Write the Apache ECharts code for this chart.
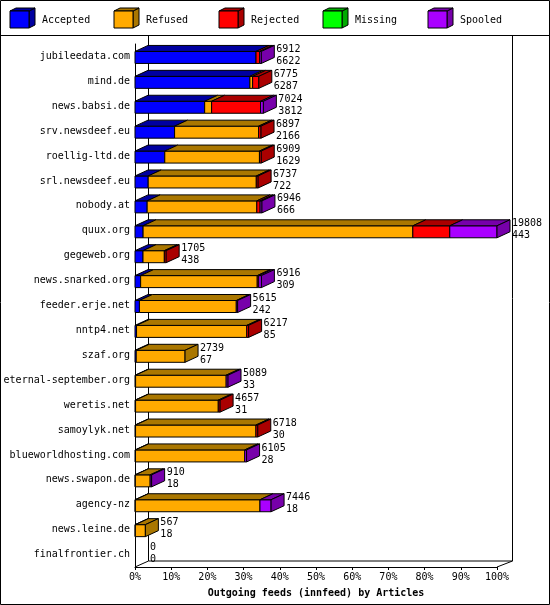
<!DOCTYPE html>
<html>
<head>
<meta charset="utf-8">
<script src="https://cdn.jsdelivr.net/npm/echarts@6/dist/echarts.min.js"></script>
<style>
  html, body { margin: 0; padding: 0; background: #fff; }
  #chart { width: 550px; height: 605px; }
</style>
</head>
<body>
<div id="chart"></div>
<script>
"use strict";

const hosts = ["jubileedata.com", "mind.de", "news.babsi.de", "srv.newsdeef.eu", "roellig-ltd.de",
  "srl.newsdeef.eu", "nobody.at", "quux.org", "gegeweb.org", "news.snarked.org", "feeder.erje.net",
  "nntp4.net", "szaf.org", "eternal-september.org", "weretis.net", "samoylyk.net",
  "blueworldhosting.com", "news.swapon.de", "agency-nz", "news.leine.de", "finalfrontier.ch"];
const offered = [6912, 6775, 7024, 6897, 6909, 6737, 6946, 19808, 1705, 6916, 5615,
  6217, 2739, 5089, 4657, 6718, 6105, 910, 7446, 567, 0];
const accepted = [6622, 6287, 3812, 2166, 1629, 722, 666, 443, 438, 309, 242,
  85, 67, 33, 31, 30, 28, 18, 18, 18, 0];
const refused = [0, 150, 380, 4600, 5180, 5915, 6000, 14760, 1167, 6380, 5300,
  6032, 2672, 4956, 4526, 6588, 5977, 812, 6820, 549, 0];
const rejected = [200, 338, 2680, 131, 100, 100, 180, 2020, 100, 80, 0,
  100, 0, 0, 100, 100, 0, 0, 0, 0, 0];
const missing = [0, 0, 0, 0, 0, 0, 0, 0, 0, 0, 0, 0, 0, 0, 0, 0, 0, 0, 0, 0, 0];
const spooled = [90, 0, 152, 0, 0, 0, 100, 2585, 0, 147, 73,
  0, 0, 100, 0, 0, 100, 80, 608, 0, 0];
const seriesNames = ["Accepted", "Refused", "Rejected", "Missing", "Spooled"];

const front = ["#0000ff", "#ffaa00", "#ff0000", "#00ff00", "#aa00ff"];
const dark = ["#0000a0", "#aa7700", "#aa0000", "#00aa00", "#7700aa"];
const DX = 13, DY = 6;
const FONT = "DejaVu Sans Mono";
const FS = 10;

const maxTotal = Math.max(...offered);
const pct = v => (v / maxTotal) * 100;

const data = hosts.map((h, i) => [i, accepted[i], refused[i], rejected[i], missing[i], spooled[i], offered[i]]);

function renderItem(params, api) {
  const row = api.value(0);
  const c = api.coord([0, row]);
  const y0 = c[1] - 5, y1 = c[1] + 7;
  const kids = [];
  let acc = 0, lastK = -1, xEnd = c[0];
  for (let k = 0; k < 5; k++) {
    const v = api.value(k + 1);
    if (v <= 0) continue;
    const xa = api.coord([pct(acc), row])[0];
    acc += v;
    const xb = api.coord([pct(acc), row])[0];
    kids.push({ type: "rect", shape: { x: xa, y: y0, width: xb - xa, height: y1 - y0 },
      style: { fill: front[k], stroke: "#000", lineWidth: 1 } });
    kids.push({ type: "polygon", shape: { points: [[xa, y0], [xa + DX, y0 - DY], [xb + DX, y0 - DY], [xb, y0]] },
      style: { fill: dark[k], stroke: "#000", lineWidth: 1 } });
    lastK = k; xEnd = xb;
  }
  if (lastK >= 0) {
    kids.push({ type: "polygon", shape: { points: [[xEnd, y0], [xEnd + DX, y0 - DY], [xEnd + DX, y1 - DY], [xEnd, y1]] },
      style: { fill: dark[lastK], stroke: "#000", lineWidth: 1 } });
  }
  const tx = xEnd + DX + 2;
  kids.push({ type: "text", style: { x: tx, y: c[1] - 7, text: String(api.value(6)), font: FS + "px " + FONT, fill: "#000", verticalAlign: "middle" } });
  kids.push({ type: "text", style: { x: tx, y: c[1] + 5, text: String(api.value(1)), font: FS + "px " + FONT, fill: "#000", verticalAlign: "middle" } });
  return { type: "group", children: kids };
}

const chart = echarts.init(document.getElementById("chart"), null, { renderer: "canvas" });

const legendGraphics = [];
const legX = [10, 114, 219, 323, 428];
seriesNames.forEach((n, k) => {
  const x = legX[k];
  legendGraphics.push({ type: "polygon", shape: { points: [[x + 19, 11], [x + 25, 8], [x + 25, 25], [x + 19, 28]] }, style: { fill: dark[k], stroke: "#000" } });
  legendGraphics.push({ type: "polygon", shape: { points: [[x, 11], [x + 6, 8], [x + 25, 8], [x + 19, 11]] }, style: { fill: dark[k], stroke: "#000" } });
  legendGraphics.push({ type: "rect", shape: { x: x, y: 11, width: 19, height: 17 }, style: { fill: front[k], stroke: "#000" } });
  legendGraphics.push({ type: "text", style: { x: x + 32, y: 20, text: n, font: FS + "px " + FONT, fill: "#000", verticalAlign: "middle" } });
});

chart.setOption({
  animation: false,
  grid: { left: 135, top: 44, width: 362, height: 523, containLabel: false, outerBoundsMode: "none" },
  xAxis: {
    type: "value", min: 0, max: 100, interval: 10,
    axisLine: { show: true, lineStyle: { color: "#000" } },
    axisTick: { show: true, length: 3, lineStyle: { color: "#000" } },
    splitLine: { show: false },
    axisLabel: { formatter: v => v + "%", color: "#000", fontFamily: FONT, fontSize: FS, margin: 5 },
    name: "Outgoing feeds (innfeed) by Articles", nameLocation: "middle", nameGap: 21,
    nameTextStyle: { color: "#000", fontFamily: FONT, fontSize: FS, fontWeight: "bold" }
  },
  yAxis: {
    type: "category", data: hosts, inverse: true,
    axisLine: { show: true, lineStyle: { color: "#000" } },
    axisTick: { show: false },
    axisLabel: { color: "#000", fontFamily: FONT, fontSize: FS, margin: 5 }
  },
  series: [{ type: "custom", renderItem, data, encode: { x: 1, y: 0 }, clip: false }],
  graphic: [
    { type: "rect", shape: { x: 0.5, y: 0.5, width: 549, height: 604 }, style: { fill: "none", stroke: "#000" } },
    { type: "line", shape: { x1: 0, y1: 35.5, x2: 550, y2: 35.5 }, style: { stroke: "#000" } },
    { type: "polyline", shape: { points: [[148.5, 36], [148.5, 561], [135, 567]] }, style: { stroke: "#000", fill: "none" } },
    { type: "polyline", shape: { points: [[512.5, 36], [512.5, 561], [497, 567]] }, style: { stroke: "#000", fill: "none" } },
    { type: "line", shape: { x1: 148.5, y1: 561, x2: 512.5, y2: 561 }, style: { stroke: "#000" } },
    ...legendGraphics
  ]
});
</script>
</body>
</html>
